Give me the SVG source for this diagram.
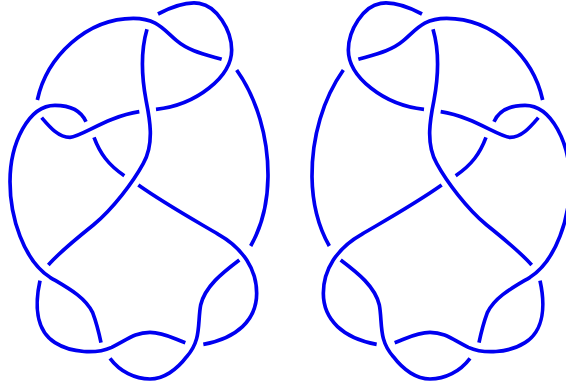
<svg xmlns="http://www.w3.org/2000/svg" xmlns:xlink="http://www.w3.org/1999/xlink" width="566" height="387" viewBox="0 0 566 387">
<style>.strand{fill:none;stroke:#0000f0;stroke-width:11;stroke-linecap:butt;stroke-linejoin:round}</style>
<defs>
<g id="knot" class="strand">
<path d="M474 42 C520 18 565 5 598 10 C650 18 695 90 695 150 C695 230 590 315 468 328"/>
<path d="M112 300 C140 170 260 55 400 55 C470 55 490 88 530 122 C565 152 610 162 665 178"/>
<path d="M441 88 C420 160 425 230 438 300 C448 350 465 430 430 490 C400 545 340 625 280 675 C230 715 180 755 145 795"/>
<path d="M258 365 C240 325 200 316 165 316 C85 316 30 430 30 545 C30 650 70 780 150 832 C200 862 255 890 278 938 C290 970 295 990 303 1028"/>
<path d="M125 353 C150 382 175 412 210 412 C245 410 320 350 418 335"/>
<path d="M282 412 C300 460 325 495 373 527"/>
<path d="M415 555 C500 615 600 670 655 703 C730 745 770 810 770 880 C770 960 710 1015 610 1033"/>
<path d="M710 210 C770 295 805 410 804 530 C803 610 785 680 752 738"/>
<path d="M718 780 C665 820 615 860 602 915 C592 970 605 1020 560 1070 C530 1110 490 1137 450 1137 C405 1137 360 1115 330 1075"/>
<path d="M120 842 C105 910 105 990 165 1028 C215 1060 290 1062 335 1042 C380 1020 405 997 450 997 C490 997 520 1015 556 1028"/>
</g>
</defs>
<rect width="566" height="387" fill="#fff"/>
<use id="knot-left" href="#knot" xlink:href="#knot" transform="scale(0.33333)"/>
<use id="knot-right" href="#knot" xlink:href="#knot" transform="translate(580 0) scale(-0.33333 0.33333)"/>
</svg>
